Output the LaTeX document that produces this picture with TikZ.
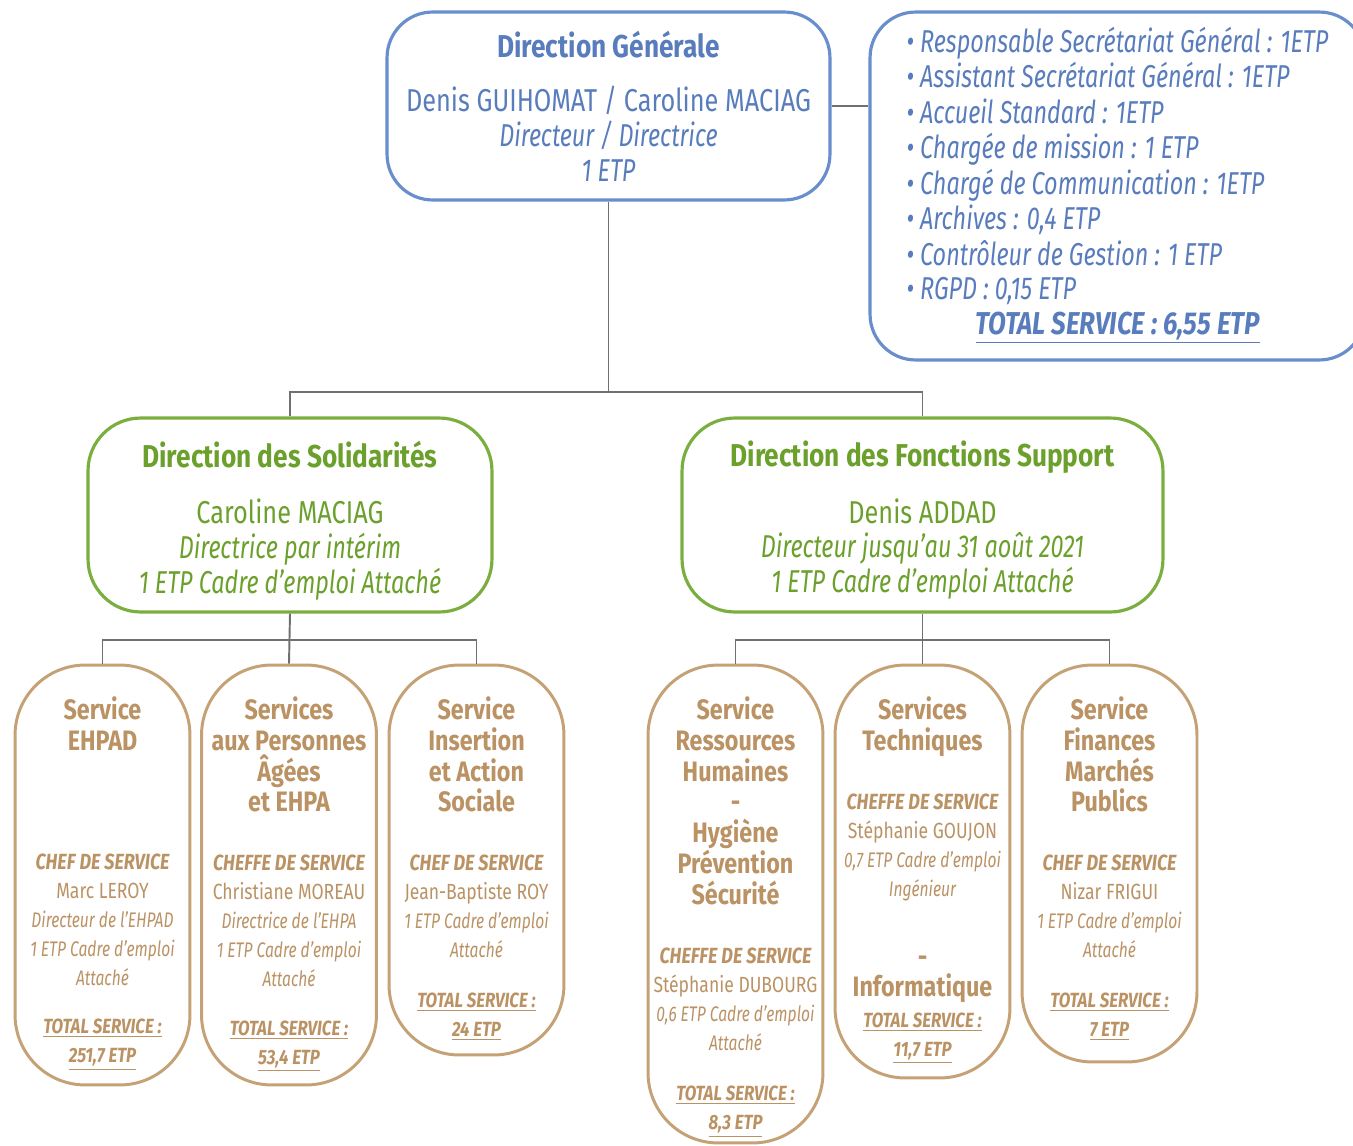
\documentclass[tikz,border=0pt]{standalone}
\usepackage{fontspec}
\setmainfont{Fira Sans}[FakeStretch=0.80,
  BoldFeatures={FakeStretch=0.83},
  ItalicFeatures={FakeStretch=0.74},
  BoldItalicFeatures={FakeStretch=0.82}]
\usetikzlibrary{positioning,calc}
\definecolor{dgblue}{RGB}{104,142,204}
\definecolor{dgtext}{RGB}{88,124,188}
\definecolor{solgreen}{RGB}{122,174,62}
\definecolor{soltext}{RGB}{108,160,44}
\definecolor{svctan}{RGB}{196,162,118}
\definecolor{svctext}{RGB}{186,146,100}
\definecolor{linkgray}{RGB}{112,112,112}
\newcommand\svcttl{\fontsize{16}{16.5}\selectfont\bfseries\upshape}
\newcommand\svcchef{\fontsize{12.5}{16.5}\selectfont\bfseries\itshape}
\newcommand\svcname{\fontsize{12.5}{16.5}\selectfont\upshape}
\newcommand\svctot[1]{{\fontsize{11.7}{16.5}\selectfont\bfseries\itshape\underline{#1}}}
\AtBeginDocument{\lineskiplimit=-100pt\relax}
\tikzset{
  bluebox/.style={draw=dgblue, line width=1.8pt, rounded corners=26pt, text=dgtext,
    font=\fontsize{18}{19.8}\selectfont},
  greenbox/.style={draw=solgreen, line width=1.8pt, rounded corners=30pt,
    minimum width=8.08cm, minimum height=3.88cm},
  dirtxt/.style={anchor=north, inner sep=0pt, align=center, text=soltext,
    font=\fontsize{18}{19.8}\selectfont},
  svcbox/.style={draw=svctan, line width=1.7pt, rounded corners=40pt, minimum width=3.5cm},
  svctxt/.style={anchor=north, inner sep=0pt, align=center, text=svctext,
    font=\fontsize{12}{16.5}\selectfont\itshape},
  link/.style={draw=linkgray, line width=1.1pt}
}
\begin{document}
\begin{tikzpicture}[x=0.02cm, y=-0.02cm]
  \useasboundingbox (0,0) rectangle (1353,1146);
  %Direction Generale and its staff
  \node[bluebox, align=center, minimum width=8.86cm, minimum height=3.76cm] (dg) at (608.5,106)
    {\bfseries Direction Générale\\[11.3pt]
     Denis GUIHOMAT / Caroline MACIAG\\
     \itshape Directeur / Directrice\\
     \itshape 1 ETP};
  \node[bluebox, minimum width=9.9cm, minimum height=6.96cm] (staff) at (1117.5,186)
    {\lineskiplimit=0pt\itshape\begin{tabular}{@{}l@{}}
     • Responsable Secrétariat Général : 1ETP\\
     • Assistant Secrétariat Général : 1ETP\\
     • Accueil Standard : 1ETP\\
     • Chargée de mission : 1 ETP\\
     • Chargé de Communication : 1ETP\\
     • Archives : 0,4 ETP\\
     • Contrôleur de Gestion : 1 ETP\\
     • RGPD : 0,15 ETP\\
     \multicolumn{1}{c}{\bfseries\underline{TOTAL SERVICE : 6,55 ETP}}
     \end{tabular}};
  %Directions
  \node[greenbox] (sol) at (290,515) {};
  \node[greenbox, minimum width=9.62cm] (fs) at (922.5,515) {};
  \node[dirtxt] (soltxt) at ($(sol.north)+(0,24)$)
    {\bfseries Direction des Solidarités\\[12.5pt]
     Caroline MACIAG\\
     \itshape Directrice par intérim\\
     \itshape 1 ETP Cadre d’emploi Attaché};
  \node[dirtxt] (fstxt) at ($(fs.north)+(0,24)$)
    {\bfseries Direction des Fonctions Support\\[12.5pt]
     Denis ADDAD\\
     \itshape Directeur jusqu’au 31 août 2021\\
     \itshape 1 ETP Cadre d’emploi Attaché};
  %Services
  \node[svcbox, minimum height=8.4cm] (ehpad) at (102.5,875) {};
  \node[svcbox, minimum height=8.4cm] (spa) at (289,875) {};
  \node[svcbox, minimum height=7.8cm] (sias) at (476.5,860) {};
  \node[svcbox, minimum height=9.56cm] (rh) at (735.5,904) {};
  \node[svcbox, minimum height=8.26cm] (st) at (922.5,871.5) {};
  \node[svcbox, minimum height=7.94cm] (sfmp) at (1109.5,863.5) {};
  \node[svctxt] (ehpadtxt) at ($(ehpad.north)+(0,33)$)
    {\svcttl Service\\[1pt] \svcttl EHPAD\\[51pt]
     \svcchef CHEF DE SERVICE\\ \svcname Marc LEROY\\
     Directeur de l’EHPAD\\ 1 ETP Cadre d’emploi\\ Attaché\\[11.3pt]
     \svctot{TOTAL SERVICE :}\\ \svctot{251,7 ETP}};
  \node[svctxt] (spatxt) at ($(spa.north)+(0,33)$)
    {\svcttl Services\\[1pt] \svcttl aux Personnes\\[1pt] \svcttl Âgées\\[1pt] \svcttl et EHPA\\[17pt]
     \svcchef CHEFFE DE SERVICE\\ \svcname Christiane MOREAU\\
     Directrice de l’EHPA\\ 1 ETP Cadre d’emploi\\ Attaché\\[11.3pt]
     \svctot{TOTAL SERVICE :}\\ \svctot{53,4 ETP}};
  \node[svctxt] (siastxt) at ($(sias.north)+(0,33)$)
    {\svcttl Service\\[1pt] \svcttl Insertion\\[1pt] \svcttl et Action\\[1pt] \svcttl Sociale\\[17pt]
     \svcchef CHEF DE SERVICE\\ \svcname Jean-Baptiste ROY\\
     1 ETP Cadre d’emploi\\ Attaché\\[11.9pt]
     \svctot{TOTAL SERVICE :}\\ \svctot{24 ETP}};
  \node[svctxt] (rhtxt) at ($(rh.north)+(0,33)$)
    {\svcttl Service\\[1pt] \svcttl Ressources\\[1pt] \svcttl Humaines\\[1pt] \svcttl -\\[1pt]
     \svcttl Hygiène\\[1pt] \svcttl Prévention\\[1pt] \svcttl Sécurité\\[17pt]
     \svcchef CHEFFE DE SERVICE\\ \svcname Stéphanie DUBOURG\\
     0,6 ETP Cadre d’emploi\\ Attaché\\[12.5pt]
     \svctot{TOTAL SERVICE :}\\ \svctot{8,3 ETP}};
  \node[svctxt] (sttxt) at ($(st.north)+(0,33)$)
    {\svcttl Services\\[1pt] \svcttl Techniques\\[17pt]
     \svcchef CHEFFE DE SERVICE\\ \svcname Stéphanie GOUJON\\
     0,7 ETP Cadre d’emploi\\ Ingénieur\\[23.2pt]
     \svcttl -\\[1pt] \svcttl Informatique\\[1pt]
     \svctot{TOTAL SERVICE :}\\ \svctot{11,7 ETP}};
  \node[svctxt] (sfmptxt) at ($(sfmp.north)+(0,33)$)
    {\svcttl Service\\[1pt] \svcttl Finances\\[1pt] \svcttl Marchés\\[1pt] \svcttl Publics\\[17pt]
     \svcchef CHEF DE SERVICE\\ \svcname Nizar FRIGUI\\
     1 ETP Cadre d’emploi\\ Attaché\\[11.9pt]
     \svctot{TOTAL SERVICE :}\\ \svctot{7 ETP}};
  %Links
  \coordinate (dgsplit) at (dg.south |- 0,392);
  \coordinate (solsplit) at ($(sol.south)+(0,26)$);
  \coordinate (fssplit) at ($(fs.south)+(0,26)$);
  \draw[link] (dg.east) -- (dg.east -| staff.west);
  \draw[link] (dg.south) -- (dgsplit);
  \draw[link] (sol.north) |- (dgsplit) -| (fs.north);
  \draw[link] (sol.south) -- (spa.north);
  \draw[link] (ehpad.north) |- (solsplit) -| (sias.north);
  \draw[link] (fs.south) -- (st.north);
  \draw[link] (rh.north) |- (fssplit) -| (sfmp.north);
\end{tikzpicture}
\end{document}
